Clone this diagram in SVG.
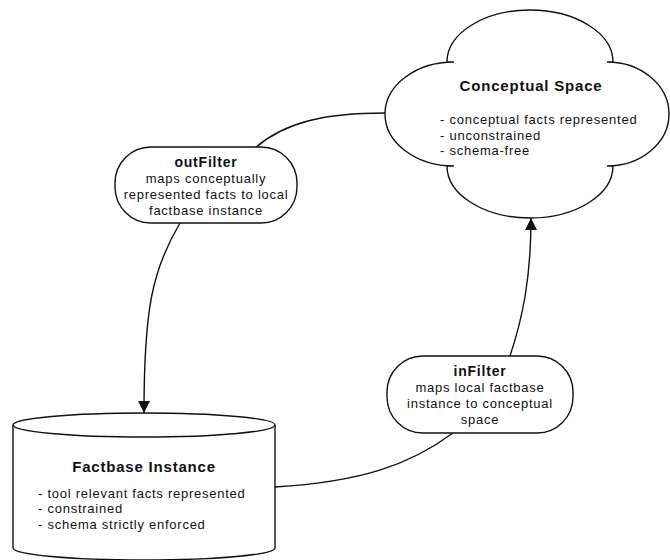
<svg xmlns="http://www.w3.org/2000/svg" width="670" height="560" viewBox="0 0 670 560">
  <style>
    .shape { fill: #ffffff; stroke: #111111; stroke-width: 1.4; }
    .edge { fill: none; stroke: #111111; stroke-width: 1.4; }
    .title { font-family: "Liberation Sans", Arial, Helvetica, sans-serif; font-weight: bold; font-size: 15px; letter-spacing: 0.8px; fill: #111111; }
    .ftitle { font-family: "Liberation Sans", Arial, Helvetica, sans-serif; font-weight: bold; font-size: 14px; letter-spacing: 0.8px; fill: #111111; }
    .body { font-family: "Liberation Sans", Arial, Helvetica, sans-serif; font-size: 13px; letter-spacing: 0.75px; fill: #111111; }
    .mid { text-anchor: middle; }
  </style>
  <defs>
    <marker id="arrow" markerUnits="userSpaceOnUse" markerWidth="12" markerHeight="12" refX="12" refY="6" orient="auto">
      <path d="M0,0 L12,6 L0,12 Z" fill="#111111"/>
    </marker>
  </defs>

  <!-- connectors -->
  <g id="connectors">
    <path class="edge" d="M 255 148 C 285 122, 325 113, 385 113"/>
    <path class="edge" d="M 180 223 C 152 270, 144 310, 144 413" marker-end="url(#arrow)"/>
    <path class="edge" d="M 275 487 C 360 482, 410 465, 453 433"/>
    <path class="edge" d="M 510 356 C 522 320, 531 280, 531 218" marker-end="url(#arrow)"/>
  </g>

  <!-- cloud: conceptual space -->
  <g id="conceptual-space">
    <path class="shape" d="M 447 62 A 83 52 0 0 1 613 62 L 607 62 A 62 52 0 0 1 607 166 L 613 166 A 83 52 0 0 1 447 166 L 454 166 A 69 52 0 0 1 454 62 Z"/>
    <text class="title mid" x="531" y="91">Conceptual Space</text>
    <text class="body" x="440" y="124">- conceptual facts represented</text>
    <text class="body" x="440" y="139.5">- unconstrained</text>
    <text class="body" x="440" y="155">- schema-free</text>
  </g>

  <!-- outFilter -->
  <g id="outFilter">
    <rect class="shape" x="115" y="147" width="182" height="76" rx="36" ry="36"/>
    <text class="ftitle mid" x="206" y="167">outFilter</text>
    <text class="body mid" x="206" y="183">maps conceptually</text>
    <text class="body mid" x="206" y="199">represented facts to local</text>
    <text class="body mid" x="206" y="215">factbase instance</text>
  </g>

  <!-- inFilter -->
  <g id="inFilter">
    <rect class="shape" x="387" y="356" width="186" height="77" rx="36" ry="36"/>
    <text class="ftitle mid" x="480" y="376">inFilter</text>
    <text class="body mid" x="480" y="392">maps local factbase</text>
    <text class="body mid" x="480" y="408">instance to conceptual</text>
    <text class="body mid" x="480" y="423.5">space</text>
  </g>

  <!-- cylinder: factbase instance -->
  <g id="factbase-instance">
    <path class="shape" d="M 13 425 A 131 12 0 0 1 275 425 L 275 548 A 131 12 0 0 1 13 548 Z"/>
    <path class="edge" d="M 13 425 A 131 12 0 0 0 275 425"/>
    <text class="title mid" x="144" y="472">Factbase Instance</text>
    <text class="body" x="38" y="498">- tool relevant facts represented</text>
    <text class="body" x="38" y="513">- constrained</text>
    <text class="body" x="38" y="529">- schema strictly enforced</text>
  </g>
</svg>
